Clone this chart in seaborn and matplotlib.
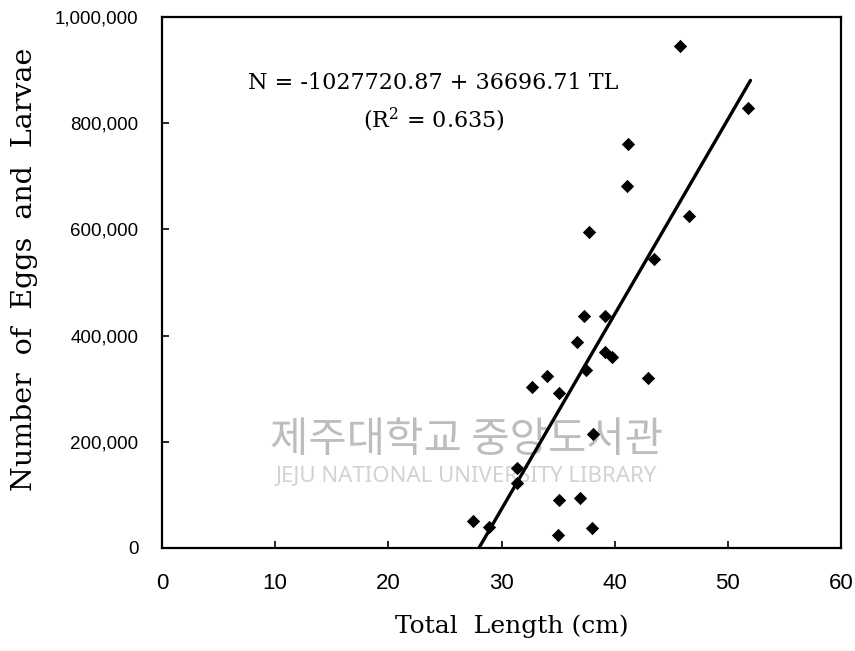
import numpy as np
import pandas as pd
import matplotlib
matplotlib.use("Agg")
import matplotlib.pyplot as plt
import seaborn as sns
from matplotlib.ticker import FuncFormatter

# ---- data ----
total_length = [27.45, 28.91, 31.33, 31.33, 32.69, 33.98, 35.10, 35.04, 35.03,
                36.69, 37.28, 37.46, 36.90, 38.05, 38.03, 39.16, 39.16, 39.73,
                42.93, 45.76, 51.74, 41.17, 41.05, 37.75, 46.53, 43.49]
eggs_larvae = [50800, 40100, 150000, 123000, 304000, 323000, 291000, 91000, 25000,
               388000, 437000, 335000, 94000, 215000, 38600, 437000, 370000, 360000,
               320000, 946000, 828000, 760000, 682000, 596000, 625000, 545000]
intercept = -1027720.87
slope = 36696.71
line_tl_end = 52.0
x_ticks = [0, 10, 20, 30, 40, 50, 60]
y_ticks = [0, 200000, 400000, 600000, 800000, 1000000]
equation_text = "N = -1027720.87 + 36696.71 TL"
r2_text = "(R$^2$ = 0.635)"
x_label = "Total  Length (cm)"
y_label = "Number  of  Eggs  and  Larvae"
wm_ko = "제주대학교 중앙도서관"
wm_en = "JEJU NATIONAL UNIVERSITY LIBRARY"

df = pd.DataFrame({"TL": total_length, "N": eggs_larvae})
tl_start = -intercept / slope
line_x = np.array([tl_start, line_tl_end])
line_df = pd.DataFrame({"TL": line_x, "N": intercept + slope * line_x})

sns.set_theme(style="white")
plt.rcParams["font.family"] = ["DejaVu Serif"]
plt.rcParams["mathtext.fontset"] = "dejavuserif"
for key in ["text.color", "axes.labelcolor", "xtick.color", "ytick.color"]:
    plt.rcParams[key] = "black"

fig = plt.figure(figsize=(8.55, 6.51), dpi=100)
ax = fig.add_axes([162 / 855, 1 - 548 / 651, (841 - 162) / 855, (548 - 17) / 651])

# watermark (faint)
ax.text(26.9, 203000, wm_ko, fontsize=30, color="#bdbdbd", ha="center", va="center",
        family=["Noto Sans CJK KR", "DejaVu Sans"], zorder=0)
ax.text(26.9, 134000, wm_en, fontsize=16, color="#d2d2d2", ha="center", va="center",
        family=["Noto Sans", "DejaVu Sans"], zorder=0)

sns.lineplot(data=line_df, x="TL", y="N", ax=ax, color="black", linewidth=2.4, zorder=2)
sns.scatterplot(data=df, x="TL", y="N", ax=ax, marker="D", s=46, color="black",
                edgecolor="black", linewidth=0, zorder=3)

ax.set_xlim(0, 60)
ax.set_ylim(0, 1000000)
ax.set_xticks(x_ticks)
ax.set_yticks(y_ticks)
ax.yaxis.set_major_formatter(FuncFormatter(lambda v, p: f"{int(v):,}"))

for s in ax.spines.values():
    s.set_visible(True)
    s.set_color("black")
    s.set_linewidth(1.6)

ax.tick_params(axis="both", direction="in", length=5, width=1.2, color="black",
               bottom=True, left=True, top=False, right=False)
ax.tick_params(axis="x", pad=18)
ax.tick_params(axis="y", pad=17)
for lab in ax.get_xticklabels():
    lab.set_fontfamily(["Liberation Sans", "DejaVu Sans"])
    lab.set_fontsize(16)
for lab in ax.get_yticklabels():
    lab.set_fontfamily(["Liberation Sans", "DejaVu Sans"])
    lab.set_fontsize(13.5)

ax.set_xlabel(x_label, fontsize=18)
ax.set_ylabel(y_label, fontsize=20.5)
ax.xaxis.set_label_coords(0.515, -0.125)
ax.yaxis.set_label_coords(-0.183, 0.525)

ax.text(24.0, 876000, equation_text, fontsize=16, ha="center", va="center")
ax.text(24.0, 806000, r2_text, fontsize=16, ha="center", va="center")

fig.savefig("out.png", dpi=100)
